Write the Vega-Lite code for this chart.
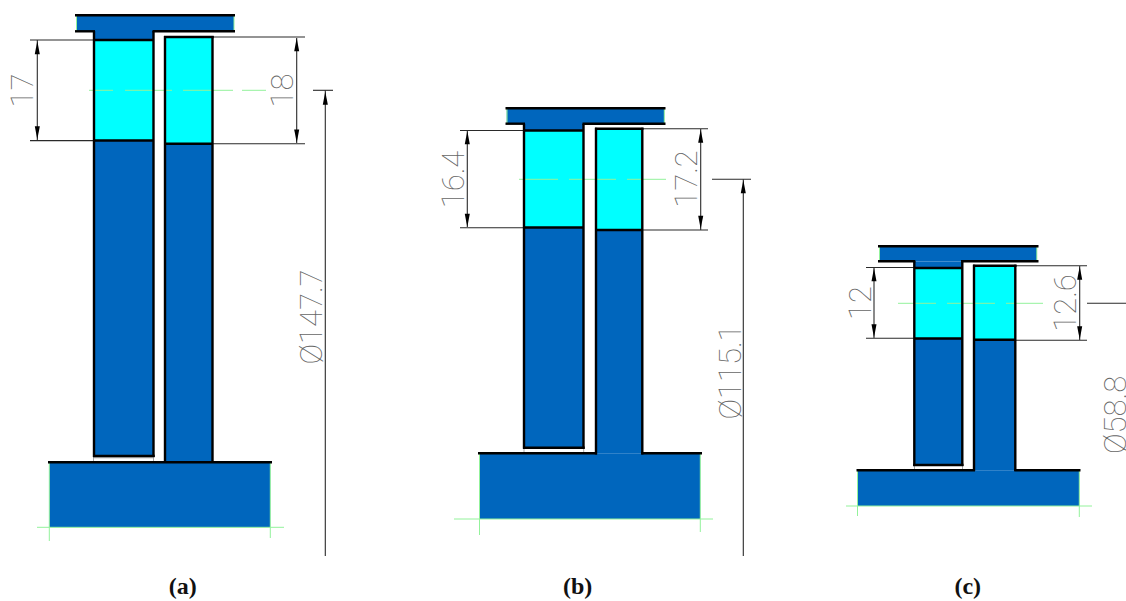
{
"$schema":"https://vega.github.io/schema/vega-lite/v6.json",
"width":1126,"height":601,"padding":0,"autosize":{"type":"none"},
"background":"white",
"config":{"view":{"stroke":null}},
"datasets":{
"fills":[
{"x":76,"x2":234,"y":15,"y2":31,"part":"body"},{"x":94,"x2":153,"y":31,"y2":40,"part":"body"},{"x":94,"x2":153,"y":40,"y2":140.5,"part":"coating"},{"x":94,"x2":153,"y":140.5,"y2":456,"part":"body"},{"x":165,"x2":212.5,"y":37,"y2":143.5,"part":"coating"},{"x":165,"x2":212.5,"y":143.5,"y2":462,"part":"body"},{"x":49.3,"x2":270.3,"y":462,"y2":527.3,"part":"body"},
{"x":506.7,"x2":664.3,"y":108,"y2":124,"part":"body"},{"x":524,"x2":583.5,"y":124,"y2":130.5,"part":"body"},{"x":524,"x2":583.5,"y":130.5,"y2":227.5,"part":"coating"},{"x":524,"x2":583.5,"y":227.5,"y2":447.7,"part":"body"},{"x":596,"x2":642.3,"y":128.7,"y2":230,"part":"coating"},{"x":596,"x2":642.3,"y":230,"y2":453.3,"part":"body"},{"x":479.3,"x2":700.3,"y":453.3,"y2":519,"part":"body"},
{"x":879,"x2":1037,"y":246.5,"y2":261.5,"part":"body"},{"x":914.3,"x2":962,"y":261.5,"y2":268,"part":"body"},{"x":914.3,"x2":962,"y":268,"y2":338.5,"part":"coating"},{"x":914.3,"x2":962.3,"y":338.5,"y2":465,"part":"body"},{"x":974,"x2":1015.3,"y":265.7,"y2":339.7,"part":"coating"},{"x":974,"x2":1015.3,"y":339.7,"y2":470.3,"part":"body"},{"x":857.5,"x2":1079.3,"y":470.3,"y2":506,"part":"body"}
],
"green":[
{"x":89,"x2":113,"y":90.3,"y2":90.3},{"x":125,"x2":172,"y":90.3,"y2":90.3},{"x":183,"x2":233,"y":90.3,"y2":90.3},{"x":242,"x2":266,"y":90.3,"y2":90.3},
{"x":37,"x2":284,"y":527.3,"y2":527.3},{"x":49.3,"x2":49.3,"y":462,"y2":541},{"x":270.3,"x2":270.3,"y":462,"y2":538},{"x":76.5,"x2":76.5,"y":15,"y2":31},{"x":234,"x2":234,"y":15,"y2":31},
{"x":519,"x2":558,"y":179.3,"y2":179.3},{"x":569,"x2":616,"y":179.3,"y2":179.3},{"x":627,"x2":666,"y":179.3,"y2":179.3},
{"x":454,"x2":713,"y":519,"y2":519},{"x":479.5,"x2":479.5,"y":453,"y2":535},{"x":700.3,"x2":700.3,"y":453,"y2":532},{"x":507,"x2":507,"y":108,"y2":124},{"x":664.3,"x2":664.3,"y":108,"y2":124},
{"x":898,"x2":936,"y":303.3,"y2":303.3},{"x":947,"x2":995,"y":303.3,"y2":303.3},{"x":1006,"x2":1043,"y":303.3,"y2":303.3},
{"x":846,"x2":1092,"y":506,"y2":506},{"x":857.5,"x2":857.5,"y":470,"y2":516},{"x":1079.3,"x2":1079.3,"y":470,"y2":517},{"x":879.5,"x2":879.5,"y":246.5,"y2":261.5},{"x":1036.8,"x2":1036.8,"y":246.5,"y2":261.5}
],
"thin":[
{"x":30,"x2":94,"y":40,"y2":40},{"x":30,"x2":94,"y":140.6,"y2":140.6},{"x":37.3,"x2":37.3,"y":40,"y2":140},{"x":212,"x2":305,"y":37,"y2":37},{"x":212,"x2":305,"y":143.7,"y2":143.7},{"x":296.7,"x2":296.7,"y":38,"y2":143},{"x":313,"x2":333,"y":90.3,"y2":90.3},{"x":325.3,"x2":325.3,"y":90.3,"y2":556},
{"x":460,"x2":524,"y":130.5,"y2":130.5},{"x":460,"x2":524,"y":227.7,"y2":227.7},{"x":467.3,"x2":467.3,"y":131,"y2":227},{"x":642,"x2":708,"y":128.7,"y2":128.7},{"x":642,"x2":708,"y":230,"y2":230},{"x":700.7,"x2":700.7,"y":129,"y2":230},{"x":712,"x2":751,"y":179.3,"y2":179.3},{"x":743.3,"x2":743.3,"y":179.3,"y2":556},
{"x":866,"x2":914,"y":267.5,"y2":267.5},{"x":866,"x2":914,"y":338.3,"y2":338.3},{"x":874,"x2":874,"y":268,"y2":338},{"x":1015,"x2":1087,"y":265.7,"y2":265.7},{"x":1015,"x2":1087,"y":340.3,"y2":340.3},{"x":1079.7,"x2":1079.7,"y":266,"y2":340},{"x":1087,"x2":1126,"y":303.3,"y2":303.3}
],
"faint":[
{"x":93.5,"x2":93.5,"y":456,"y2":462},{"x":153.5,"x2":153.5,"y":456,"y2":462},{"x":93,"x2":154,"y":457.8,"y2":457.8},
{"x":524,"x2":524,"y":447.7,"y2":453},{"x":583.7,"x2":583.7,"y":447.7,"y2":453},
{"x":914.5,"x2":914.5,"y":465,"y2":470},{"x":962.5,"x2":962.5,"y":465,"y2":470}
],
"outline":[
{"x":75,"x2":235,"y":15.3,"y2":15.3},{"x":75,"x2":95,"y":31.3,"y2":31.3},{"x":152.5,"x2":235,"y":31.3,"y2":31.3},{"x":94,"x2":94,"y":31,"y2":457},{"x":153.5,"x2":153.5,"y":31,"y2":457},{"x":94,"x2":153,"y":40,"y2":40},{"x":94,"x2":153,"y":140.5,"y2":140.5},{"x":93,"x2":154.7,"y":456,"y2":456},{"x":165,"x2":165,"y":36,"y2":462},{"x":212.5,"x2":212.5,"y":36,"y2":462},{"x":164,"x2":213.7,"y":37,"y2":37},{"x":165,"x2":212.5,"y":143.7,"y2":143.7},{"x":48,"x2":272,"y":462.3,"y2":462.3},
{"x":505.5,"x2":665.5,"y":108.3,"y2":108.3},{"x":505.5,"x2":525,"y":123.7,"y2":123.7},{"x":582.5,"x2":665.5,"y":123.7,"y2":123.7},{"x":524,"x2":524,"y":123.7,"y2":448.7},{"x":583.5,"x2":583.5,"y":123.7,"y2":448.7},{"x":524,"x2":583.5,"y":130.5,"y2":130.5},{"x":524,"x2":583.5,"y":227.5,"y2":227.5},{"x":523,"x2":584.7,"y":447.7,"y2":447.7},{"x":596,"x2":596,"y":127.7,"y2":454.5},{"x":642.3,"x2":642.3,"y":127.7,"y2":454.5},{"x":595,"x2":643.5,"y":128.7,"y2":128.7},{"x":596,"x2":642.3,"y":230,"y2":230},{"x":478,"x2":597,"y":453.3,"y2":453.3},{"x":641.3,"x2":702,"y":453.3,"y2":453.3},
{"x":878,"x2":1038.5,"y":246.3,"y2":246.3},{"x":878,"x2":915.3,"y":261.3,"y2":261.3},{"x":961,"x2":1038.5,"y":261.3,"y2":261.3},{"x":914.3,"x2":914.3,"y":261,"y2":466},{"x":962.3,"x2":962.3,"y":261,"y2":466},{"x":914.3,"x2":962.3,"y":268,"y2":268},{"x":914.3,"x2":962.3,"y":338.5,"y2":338.5},{"x":913,"x2":963.5,"y":465,"y2":465},{"x":974,"x2":974,"y":264.7,"y2":471},{"x":1015.3,"x2":1015.3,"y":264.7,"y2":471},{"x":973,"x2":1016.5,"y":265.7,"y2":265.7},{"x":974,"x2":1015.3,"y":339.7,"y2":339.7},{"x":856.5,"x2":975,"y":470.3,"y2":470.3},{"x":1014.3,"x2":1080.5,"y":470.3,"y2":470.3}
],
"arrows":[
{"x":37.3,"y":41,"dir":"up"},{"x":37.3,"y":139.5,"dir":"down"},{"x":296.7,"y":38,"dir":"up"},{"x":296.7,"y":142.7,"dir":"down"},{"x":325.3,"y":91.5,"dir":"up"},
{"x":467.3,"y":131,"dir":"up"},{"x":467.3,"y":227,"dir":"down"},{"x":700.7,"y":129.5,"dir":"up"},{"x":700.7,"y":229,"dir":"down"},{"x":743.3,"y":180,"dir":"up"},
{"x":874,"y":268,"dir":"up"},{"x":874,"y":337.5,"dir":"down"},{"x":1079.7,"y":266.5,"dir":"up"},{"x":1079.7,"y":339.5,"dir":"down"}
],
"dims":[
{"x":24,"y":90.5,"label":"17"},{"x":284,"y":90.5,"label":"18"},{"x":313,"y":317,"label":"Ø147.7"},
{"x":455,"y":179.5,"label":"16.4"},{"x":688,"y":179,"label":"17.2"},{"x":732,"y":372,"label":"Ø115.1"},
{"x":861.5,"y":303,"label":"12"},{"x":1066.5,"y":303,"label":"12.6"},{"x":1117,"y":415,"label":"Ø58.8"}
],
"captions":[{"x":182.7,"y":587,"label":"(a)"},{"x":577.7,"y":587,"label":"(b)"},{"x":967.7,"y":587,"label":"(c)"}]
},
"encoding":{
"x":{"field":"x","type":"quantitative","scale":{"domain":[0,1126],"nice":false,"zero":false},"axis":null},
"y":{"field":"y","type":"quantitative","scale":{"domain":[601,0],"nice":false,"zero":false},"axis":null}
},
"layer":[
{"data":{"name":"fills"},"mark":{"type":"rect"},"encoding":{"x2":{"field":"x2"},"y2":{"field":"y2"},"color":{"field":"part","type":"nominal","legend":null,"scale":{"domain":["body","coating"],"range":["#0066BD","#00FFFF"]}}}},
{"data":{"name":"green"},"mark":{"type":"rule","color":"#93F29B","strokeWidth":1},"encoding":{"x2":{"field":"x2"},"y2":{"field":"y2"}}},
{"data":{"name":"faint"},"mark":{"type":"rule","color":"#AAAAAA","strokeWidth":1},"encoding":{"x2":{"field":"x2"},"y2":{"field":"y2"}}},
{"data":{"name":"thin"},"mark":{"type":"rule","color":"#2A2A2A","strokeWidth":1.1},"encoding":{"x2":{"field":"x2"},"y2":{"field":"y2"}}},
{"data":{"name":"outline"},"mark":{"type":"rule","color":"#000000","strokeWidth":2.4},"encoding":{"x2":{"field":"x2"},"y2":{"field":"y2"}}},
{"data":{"name":"arrows"},"mark":{"type":"point","filled":true,"color":"#000000","opacity":1,"size":700,"strokeWidth":0},"encoding":{"shape":{"field":"dir","type":"nominal","legend":null,"scale":{"domain":["up","down"],"range":["M0,0L-0.19,1L0.19,1Z","M0,0L-0.19,-1L0.19,-1Z"]}}}},
{"data":{"name":"dims"},"mark":{"type":"text","angle":270,"align":"center","baseline":"middle","font":"Roboto","fontWeight":100,"fontSize":31,"color":"#666666"},"encoding":{"text":{"field":"label"}}},
{"data":{"name":"captions"},"mark":{"type":"text","align":"center","baseline":"middle","font":"Liberation Serif","fontWeight":"bold","fontSize":24,"color":"#111111"},"encoding":{"text":{"field":"label"}}}
]
}
